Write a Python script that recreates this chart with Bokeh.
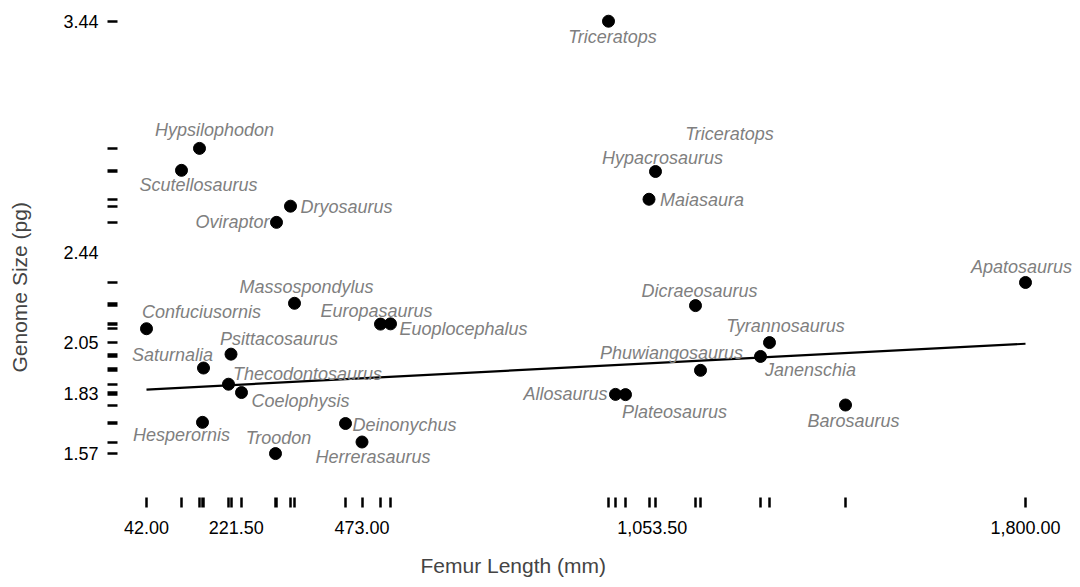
import numpy as np
from bokeh.plotting import figure
from bokeh.models import ColumnDataSource, FixedTicker, Range1d, Title
from bokeh.core.properties import value
from bokeh.embed import file_html
from bokeh.resources import INLINE

# ---------------- data ----------------
names = ["Triceratops", "Hypsilophodon", "Hypacrosaurus", "Scutellosaurus", "Maiasaura",
         "Dryosaurus", "Oviraptor", "Apatosaurus", "Massospondylus", "Dicraeosaurus",
         "Europasaurus", "Euoplocephalus", "Confuciusornis", "Tyrannosaurus", "Psittacosaurus",
         "Janenschia", "Saturnalia", "Phuwiangosaurus", "Thecodontosaurus", "Coelophysis",
         "Allosaurus", "Plateosaurus", "Barosaurus", "Hesperornis", "Deinonychus",
         "Herrerasaurus", "Troodon"]
femur_mm = [966, 148, 1060, 112, 1047,
            330, 302, 1800, 338, 1140,
            510, 530, 42, 1288, 211,
            1270, 156, 1150, 206, 232,
            980, 1000, 1440, 154, 440,
            473, 300]
genome_pg = [3.44, 2.89, 2.79, 2.795, 2.67,
             2.64, 2.57, 2.31, 2.22, 2.21,
             2.13, 2.131, 2.11, 2.05, 2.00,
             1.99, 1.94, 1.93, 1.87, 1.834,
             1.826, 1.825, 1.78, 1.705, 1.70,
             1.62, 1.57]

# label without a visible point
extra_label = ["Triceratops"]
extra_femur = [1208]
extra_genome = [2.954]

# fitted line as drawn in the picture
fit_femur = [42, 1800]
fit_genome = [1.847, 2.045]

x_title = "Femur Length (mm)"
y_title = "Genome Size (pg)"

# ---------------- label layout (pixel offsets, screen) ----------------
label_dx = [4, 15, 7, 17, 53,
            56, -44, -4, 12, 4,
            -4, 73, 55, 16, 48,
            50, -31, -29, 79, 59,
            -50, 49, 8, -21, 59,
            11, 3]
label_dy = [16, -18, -14, 15, 1,
            1, 0, -15, -16, -15,
            -13, 5, -17, -17, -15,
            14, -13, -17, -10, 8,
            0, 17, 16, 13, 1,
            15, -16]

FONT = "Liberation Sans"

xq = np.percentile(femur_mm, [0, 25, 50, 75, 100])
yq = np.percentile(genome_pg, [0, 25, 50, 75, 100])

p = figure(width=1072, height=579, output_backend="svg", toolbar_location=None,
           x_range=Range1d(-16, 1894), y_range=Range1d(1.380, 3.495),
           min_border_left=117, min_border_right=0, min_border_top=8, min_border_bottom=82)
p.outline_line_color = None
p.xgrid.visible = False
p.ygrid.visible = False

src = ColumnDataSource(dict(x=femur_mm, y=genome_pg, name=names, dx=label_dx, dy=label_dy))

p.line(fit_femur, fit_genome, line_color="black", line_width=2.2)
p.scatter("x", "y", source=src, size=12, color="black")
p.text("x", "y", text="name", source=src, x_offset="dx", y_offset="dy",
       text_font=value(FONT), text_font_style="italic", text_font_size="18px",
       text_color="#7f7f7f", text_align="center", text_baseline="middle")
p.text(extra_femur, extra_genome, text=extra_label,
       text_font=value(FONT), text_font_style="italic", text_font_size="18px",
       text_color="#7f7f7f", text_align="center", text_baseline="middle")

def style_axis(ax, quant, vals):
    ax.ticker = FixedTicker(ticks=list(quant), minor_ticks=list(vals))
    ax.major_label_overrides = {float(q): f"{q:,.2f}" for q in quant}
    ax.axis_line_color = None
    ax.major_tick_line_color = None
    ax.major_tick_out = 10
    ax.major_tick_in = 0
    ax.minor_tick_out = 10
    ax.minor_tick_in = 0
    ax.minor_tick_line_color = "black"
    ax.minor_tick_line_width = 2.5
    ax.major_label_text_font = FONT
    ax.major_label_text_font_size = "18px"
    ax.major_label_text_color = "black"

style_axis(p.xaxis[0], xq, femur_mm)
style_axis(p.yaxis[0], yq, genome_pg)
p.xaxis[0].major_label_standoff = 13
p.yaxis[0].major_label_standoff = 9

# blank spacer labels to open a gap between tick labels and the axis titles
p.xaxis[0].axis_label = " "
p.xaxis[0].axis_label_text_font_size = "4px"
p.xaxis[0].axis_label_standoff = 7
p.yaxis[0].axis_label = " "
p.yaxis[0].axis_label_text_font_size = "10px"
p.yaxis[0].axis_label_standoff = 16

p.add_layout(Title(text=x_title, align="left", offset=303, standoff=0, vertical_align="bottom",
                   text_font=FONT, text_font_size="21px", text_font_style="normal"), "below")
p.add_layout(Title(text=y_title, align="left", offset=125, standoff=0, vertical_align="bottom",
                   text_font=FONT, text_font_size="21px", text_font_style="normal"), "left")

open("out.html", "w").write(file_html(p, INLINE))
